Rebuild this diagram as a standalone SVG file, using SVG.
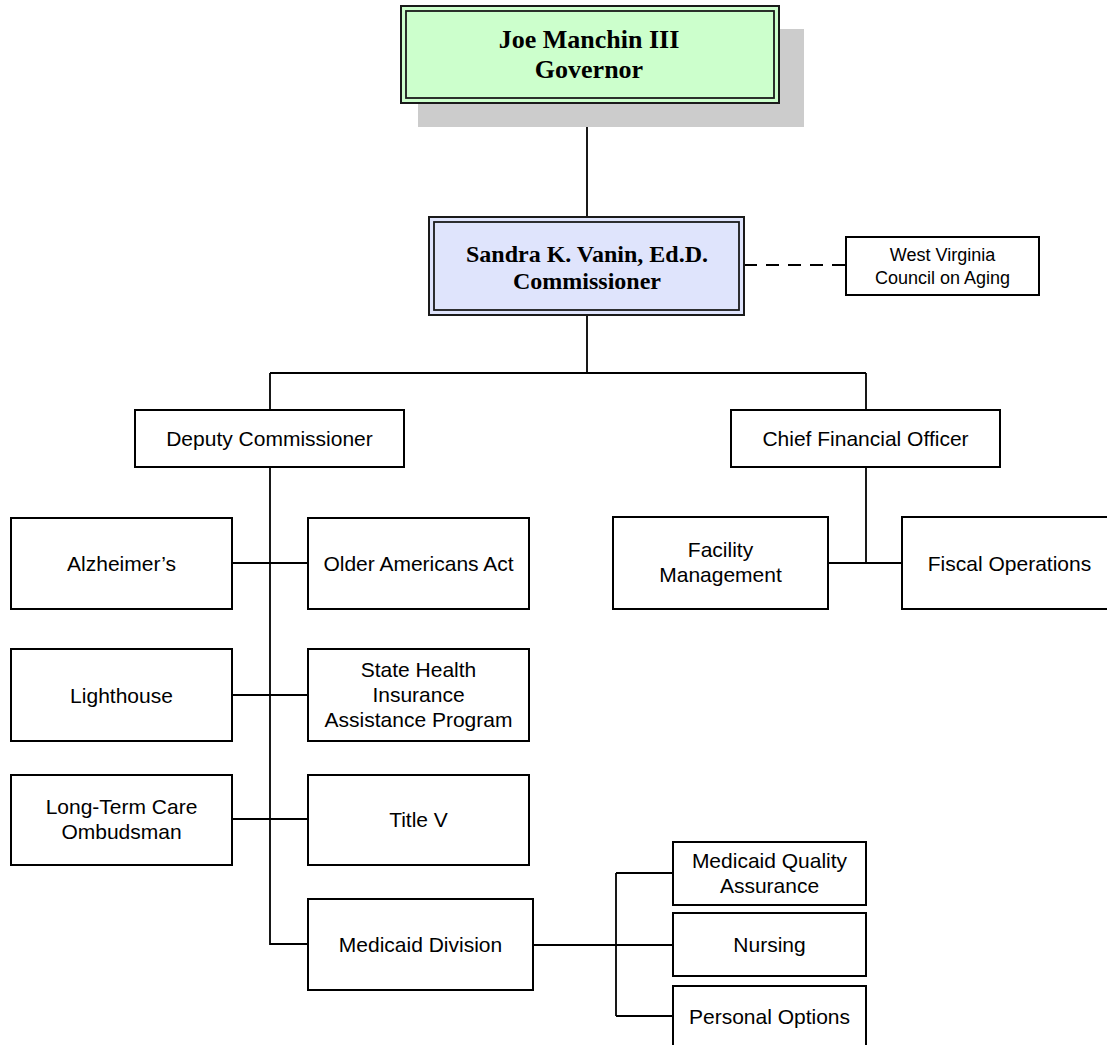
<svg xmlns="http://www.w3.org/2000/svg" width="1107" height="1045" viewBox="0 0 1107 1045">
<style>
.box{fill:#ffffff;stroke:#000000;stroke-width:2}
.outer{stroke:#1a1a1a;stroke-width:2}
.inner{fill:none;stroke:#1a1a1a;stroke-width:1.8}
.t{font-family:"Liberation Sans",Arial,sans-serif;font-size:21px;fill:#000;text-anchor:middle}
.ts{font-family:"Liberation Sans",Arial,sans-serif;font-size:18px;fill:#000;text-anchor:middle}
.tb{font-family:"Liberation Serif","Times New Roman",serif;font-weight:bold;fill:#000;text-anchor:middle}
.ln{fill:none;stroke:#000;stroke-width:1.8}
.dash{fill:none;stroke:#000;stroke-width:2;stroke-dasharray:13 9}
</style>
<rect width="1107" height="1045" fill="#ffffff"/>
<g id="connectors">
<path class="ln" d="M587 103V217"/>
<path class="ln" d="M587 315V373M270 373H866M270 373V410M866 373V410"/>
<path class="dash" d="M744 265H846"/>
<path class="ln" d="M270 467V944H308"/>
<path class="ln" d="M232 563H308M232 695H308M232 819H308"/>
<path class="ln" d="M866 467V563M828 563H902"/>
<path class="ln" d="M533 945H616M616 873V1016M616 873H673M616 945H673M616 1016H673"/>
</g>
<g id="governor">
<rect x="418" y="29" width="386" height="98" fill="#cccccc"/>
<rect class="outer" x="401" y="6" width="378" height="97" fill="#ccffcc"/>
<rect class="inner" x="406" y="11" width="368" height="87"/>
<text class="tb" x="589" y="48" font-size="26">Joe Manchin III</text>
<text class="tb" x="589" y="78" font-size="26">Governor</text>
</g>
<g id="commissioner">
<rect class="outer" x="429" y="217" width="315" height="98" fill="#dfe4fc"/>
<rect class="inner" x="434" y="222" width="305" height="88"/>
<text class="tb" x="587" y="262" font-size="24">Sandra K. Vanin, Ed.D.</text>
<text class="tb" x="587" y="289" font-size="24">Commissioner</text>
</g>
<g id="wv-council">
<rect class="box" x="846" y="237" width="193" height="58"/>
<text class="ts" x="942.5" y="261">West Virginia</text>
<text class="ts" x="942.5" y="284">Council on Aging</text>
</g>
<g id="deputy">
<rect class="box" x="135" y="410" width="269" height="57"/>
<text class="t" x="269.5" y="446">Deputy Commissioner</text>
</g>
<g id="cfo">
<rect class="box" x="731" y="410" width="269" height="57"/>
<text class="t" x="865.5" y="446">Chief Financial Officer</text>
</g>
<g id="alzheimers">
<rect class="box" x="11" y="518" width="221" height="91"/>
<text class="t" x="121.5" y="571">Alzheimer’s</text>
</g>
<g id="older-americans">
<rect class="box" x="308" y="518" width="221" height="91"/>
<text class="t" x="418.5" y="571">Older Americans Act</text>
</g>
<g id="facility">
<rect class="box" x="613" y="517" width="215" height="92"/>
<text class="t" x="720.5" y="557">Facility</text>
<text class="t" x="720.5" y="582">Management</text>
</g>
<g id="fiscal">
<rect class="box" x="902" y="517" width="215" height="92"/>
<text class="t" x="1009.5" y="571">Fiscal Operations</text>
</g>
<g id="lighthouse">
<rect class="box" x="11" y="649" width="221" height="92"/>
<text class="t" x="121.5" y="703">Lighthouse</text>
</g>
<g id="ship">
<rect class="box" x="308" y="649" width="221" height="92"/>
<text class="t" x="418.5" y="677">State Health</text>
<text class="t" x="418.5" y="702">Insurance</text>
<text class="t" x="418.5" y="727">Assistance Program</text>
</g>
<g id="ltc-ombudsman">
<rect class="box" x="11" y="775" width="221" height="90"/>
<text class="t" x="121.5" y="814">Long-Term Care</text>
<text class="t" x="121.5" y="839">Ombudsman</text>
</g>
<g id="title-v">
<rect class="box" x="308" y="775" width="221" height="90"/>
<text class="t" x="418.5" y="827">Title V</text>
</g>
<g id="medicaid-division">
<rect class="box" x="308" y="899" width="225" height="91"/>
<text class="t" x="420.5" y="952">Medicaid Division</text>
</g>
<g id="medicaid-qa">
<rect class="box" x="673" y="842" width="193" height="63"/>
<text class="t" x="769.5" y="868">Medicaid Quality</text>
<text class="t" x="769.5" y="893">Assurance</text>
</g>
<g id="nursing">
<rect class="box" x="673" y="913" width="193" height="63"/>
<text class="t" x="769.5" y="952">Nursing</text>
</g>
<g id="personal-options">
<rect class="box" x="673" y="986" width="193" height="63"/>
<text class="t" x="769.5" y="1024">Personal Options</text>
</g>
</svg>
